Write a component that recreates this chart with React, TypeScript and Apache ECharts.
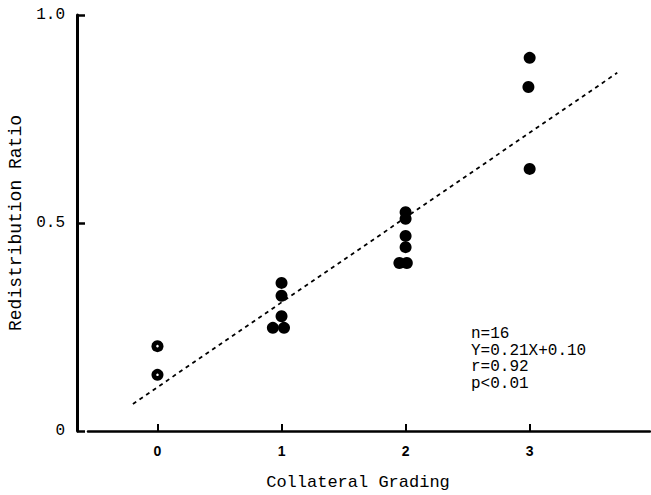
import React, { useEffect, useRef } from "react";
import * as echarts from "echarts";

// Collateral grading (x, with slight horizontal jitter as drawn) and redistribution ratio (y)
const gradeX = [0, 0, 1, 1, 1, 0.93, 1.02, 2, 2, 2, 2, 1.95, 2.01, 3, 2.99, 3];
const ratioY = [0.204, 0.135, 0.356, 0.325, 0.276, 0.248, 0.248, 0.526, 0.51, 0.469, 0.442, 0.404, 0.404, 0.897, 0.827, 0.63];
// points drawn with a white centre (grade 0)
const centredIdx = [0, 1];

// regression line Y = 0.21X + 0.10, as drawn
const fitX = [-0.198, 3.706];
const fitY = [0.065, 0.861];

const xTicks = [0, 1, 2, 3];
const yTicks = [0, 0.5, 1.0];
const yTickLabels = ["0", "0.5", "1.0"];

const statsLines = ["n=16", "Y=0.21X+0.10", "r=0.92", "p<0.01"];

const MONO = "'Liberation Mono', 'DejaVu Sans Mono', monospace";

export default function App() {
  const ref = useRef<HTMLDivElement>(null);
  useEffect(() => {
    if (!ref.current) return;
    const chart = echarts.init(ref.current, null, { renderer: "svg" });
    const pts = gradeX.map((x, i) => [x, ratioY[i]]);
    const centres = centredIdx.map((i) => [gradeX[i], ratioY[i]]);
    chart.setOption({
      animation: false,
      backgroundColor: "#ffffff",
      grid: { left: 88, right: 1, top: 15, bottom: 64, containLabel: false, outerBoundsMode: "none" },
      xAxis: {
        type: "value",
        min: -0.56,
        max: 3.97,
        splitLine: { show: false },
        axisLine: { show: true, onZero: false, lineStyle: { color: "#000", width: 2.5 } },
        axisTick: {
          show: true,
          inside: true,
          length: 7,
          customValues: xTicks,
          lineStyle: { color: "#000", width: 2 },
        },
        axisLabel: {
          customValues: xTicks,
          margin: 13,
          color: "#000",
          fontFamily: "'Liberation Sans', Arial, sans-serif",
          fontWeight: "bold",
          fontSize: 14,
          formatter: (v: number) => String(v),
        },
        name: "Collateral Grading",
        nameLocation: "middle",
        nameGap: 43,
        nameTextStyle: {
          color: "#000",
          fontFamily: MONO,
          fontSize: 17,
          padding: [0, 22, 0, 0],
        },
      },
      yAxis: {
        type: "value",
        min: 0,
        max: 1,
        offset: 11,
        splitLine: { show: false },
        axisLine: { show: true, onZero: false, lineStyle: { color: "#000", width: 3 } },
        axisTick: {
          show: true,
          inside: true,
          length: 8,
          customValues: yTicks,
          lineStyle: { color: "#000", width: 2.5 },
        },
        axisLabel: {
          customValues: yTicks,
          margin: 12,
          color: "#000",
          fontFamily: MONO,
          fontSize: 16,
          formatter: (v: number) => {
            const i = yTicks.findIndex((t) => Math.abs(t - v) < 1e-9);
            return i >= 0 ? yTickLabels[i] : "";
          },
        },
        name: "Redistribution Ratio",
        nameLocation: "middle",
        nameGap: 51,
        nameRotate: 90,
        nameTextStyle: { color: "#000", fontFamily: MONO, fontSize: 18 },
      },
      series: [
        {
          type: "line",
          data: fitX.map((x, i) => [x, fitY[i]]),
          symbol: "none",
          lineStyle: { color: "#000", width: 1.8, type: [4, 4] },
          z: 1,
        },
        {
          type: "scatter",
          data: pts,
          symbol: "circle",
          symbolSize: 12,
          itemStyle: { color: "#000", opacity: 1 },
          z: 2,
        },
        {
          type: "scatter",
          data: centres,
          symbol: "circle",
          symbolSize: 2.5,
          itemStyle: { color: "#fff", opacity: 1 },
          z: 3,
        },
      ],
      graphic: statsLines.map((line, i) => ({
        type: "text",
        left: 471,
        top: 326 + i * 16.5,
        style: {
          text: line,
          fill: "#000",
          font: `16px ${MONO}`,
        },
      })),
    });
    return () => chart.dispose();
  }, []);
  return (
    <div style={{ position: "absolute", left: 0, top: 0 }}>
      <div ref={ref} style={{ width: 651, height: 495 }} />
    </div>
  );
}
